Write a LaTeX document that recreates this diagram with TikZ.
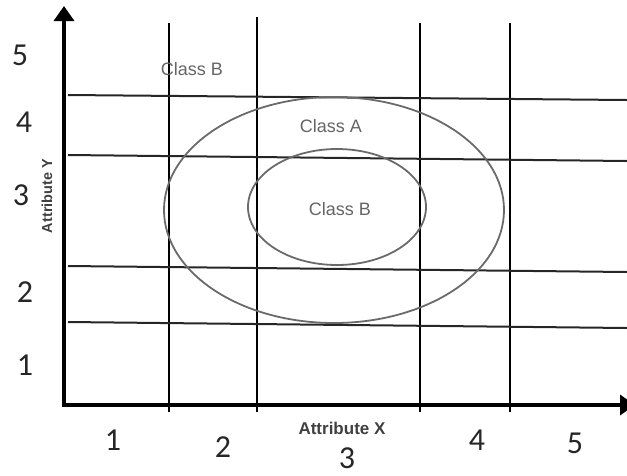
\documentclass[tikz,border=0pt]{standalone}
\usepackage{fontspec}
\newfontfamily\numfont{Carlito}
\newfontfamily\labfont{Liberation Sans}
\usetikzlibrary{arrows.meta}
\definecolor{ovalgray}{HTML}{6A6A6A}
\definecolor{classgray}{HTML}{656565}

\begin{document}
\begin{tikzpicture}[x=1pt, y=-1pt,
		axis/.style={line width=3.5pt, {Triangle[width=20pt,length=15pt]}-{Triangle[width=20pt,length=15pt]}},
		gridv/.style={line width=2.2pt, black},
		gridh/.style={line width=2pt, black!85},
		oval/.style={line width=1.8pt, ovalgray},
		classlab/.style={font=\labfont\fontsize{18}{18}\selectfont, text=classgray},
		attrlab/.style={font=\labfont\bfseries\fontsize{17}{17}\selectfont, text=black!75},
		num/.style={font=\numfont\fontsize{32}{32}\selectfont, text=black!85}]
	\useasboundingbox (0,0) rectangle (627,475);
	% axes
	\coordinate (O) at (64,405);
	\coordinate (ytop) at (64,6);
	\coordinate (xend) at (635,405);
	% grid lines
	\foreach \x/\t [count=\i] in {169/23, 257/17, 420/23, 510/23} {
		\coordinate (vt\i) at (\x,\t);
		\coordinate (vb\i) at (\x,412);
		\draw[gridv] (vt\i) -- (vb\i);
	}
	\foreach \l/\r [count=\i] in {95/100, 155/161, 266/272, 322/328} {
		\coordinate (hl\i) at (68,\l);
		\coordinate (hr\i) at (627,\r);
		\draw[gridh] (hl\i) -- (hr\i);
	}
	\draw[axis] (ytop) -- (O) -- (xend);
	% classes
	\coordinate (cA) at (334,210);
	\coordinate (cB) at (337,207);
	\draw[oval] (cA) ellipse [x radius=170pt, y radius=113pt];
	\draw[oval] (cB) ellipse [x radius=89pt, y radius=58pt];
	\node[classlab] (clsBtop) at (192,69) {Class B};
	\node[classlab] (clsA) at (331,126) {Class A};
	\node[classlab] (clsB) at (340,209) {Class B};
	% labels
	\node[attrlab] (attrX) at (342,428) {Attribute X};
	\node[attrlab, font=\labfont\bfseries\fontsize{14.5}{14.5}\selectfont, rotate=90] (attrY) at (47,196) {Attribute Y};
	\foreach \x/\y/\n in {20/55/5, 24/122/4, 21/195/3, 25/292/2, 25/365/1}
		\node[num] (ny\n) at (\x,\y) {\n};
	\foreach \x/\y/\n in {113/440/1, 223/447/2, 347/458/3, 477/440/4, 575/443/5}
		\node[num] (nx\n) at (\x,\y) {\n};
\end{tikzpicture}
\end{document}
